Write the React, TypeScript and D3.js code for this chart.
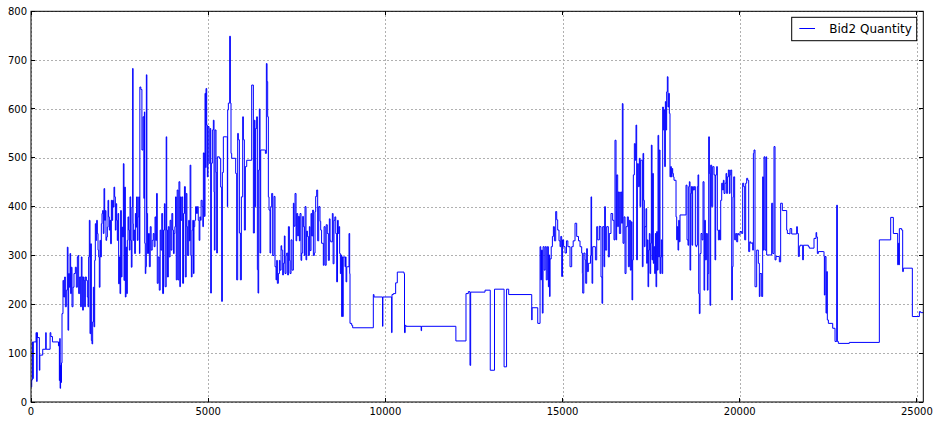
import React from "react";
import * as d3 from "d3";

// [sample index, Bid2 quantity] breakpoints (value holds until next index)
const openingSteps: [number, number][] = [
  [0, 31], [20, 45], [38, 123], [50, 48], [65, 123], [142, 142], [160, 42], [172, 142], [180, 132], [236, 65],
  [250, 96], [331, 108], [416, 142], [428, 108], [539, 142], [560, 134], [605, 123], [775, 115], [790, 123],
  [800, 44], [812, 130], [822, 28], [835, 75], [848, 40], [860, 80],
];

const morningSession: [number, number][] = [
  [875, 181], [903, 249], [922, 215], [950, 256], [969, 195], [997, 229], [1025, 317], [1044, 147], [1063, 263],
  [1082, 235], [1101, 304], [1119, 222], [1138, 276], [1157, 195], [1185, 235], [1213, 263], [1251, 276],
  [1279, 235], [1308, 297], [1326, 300], [1345, 222], [1373, 256], [1402, 195], [1420, 297], [1439, 256],
  [1458, 188], [1477, 256], [1496, 249], [1515, 195], [1533, 256], [1562, 249], [1590, 215], [1609, 195],
  [1627, 297], [1646, 372], [1665, 140], [1684, 324], [1703, 126], [1721, 119], [1740, 164], [1759, 235],
  [1778, 154], [1797, 290], [1815, 365], [1834, 331], [1853, 372], [1872, 345], [1891, 311], [1910, 297],
  [1928, 235], [1947, 331], [1966, 297], [1985, 365], [2004, 386], [2022, 392], [2041, 345], [2060, 437],
  [2079, 372], [2098, 392], [2116, 331], [2135, 338], [2154, 358], [2173, 413], [2192, 379], [2211, 352],
  [2229, 372], [2248, 324], [2267, 413], [2286, 372], [2305, 413], [2323, 399], [2342, 440], [2361, 420],
  [2380, 352], [2399, 406], [2418, 372], [2436, 331], [2455, 386], [2474, 242], [2493, 297], [2512, 222],
  [2530, 392], [2549, 256], [2568, 358], [2587, 338], [2606, 488], [2624, 249], [2643, 440], [2662, 215],
  [2681, 317], [2700, 222], [2718, 331], [2737, 379], [2756, 352], [2775, 311], [2794, 420], [2813, 331],
  [2831, 276], [2850, 399], [2869, 683], [2880, 365], [2888, 331], [2907, 352], [2926, 304], [2945, 386],
  [2963, 358], [2980, 420], [3000, 331], [3020, 379], [3040, 420], [3060, 304], [3072, 645], [3100, 640],
  [3130, 516], [3160, 584], [3185, 417], [3200, 594], [3210, 325], [3225, 263], [3240, 277], [3255, 670],
  [3270, 386], [3290, 304], [3315, 345], [3340, 277], [3365, 359], [3390, 311], [3420, 331], [3450, 345],
  [3475, 318], [3500, 379], [3520, 331], [3545, 427], [3563, 243], [3590, 297], [3620, 229], [3645, 352],
  [3665, 311], [3690, 386], [3715, 222], [3740, 352], [3765, 406], [3785, 236], [3815, 543], [3830, 352],
  [3850, 256], [3875, 359], [3900, 297], [3925, 372], [3950, 311], [3975, 386], [4000, 352], [4020, 304],
  [4040, 345], [4060, 359], [4080, 420], [4100, 250], [4125, 434], [4150, 250], [4175, 451], [4200, 236],
  [4215, 420], [4230, 372], [4255, 420], [4280, 243], [4305, 386], [4330, 441], [4355, 256], [4380, 427],
  [4400, 359], [4420, 300], [4450, 372], [4470, 330], [4490, 485], [4510, 300], [4525, 256], [4545, 352],
  [4565, 372], [4585, 263], [4600, 359], [4620, 372], [4645, 400], [4670, 386], [4695, 400], [4720, 372],
  [4745, 331], [4765, 379], [4785, 372], [4800, 413], [4830, 400], [4850, 359],
];

const middaySession: [number, number][] = [
  [4864, 510], [4892, 380], [4911, 632], [4930, 480], [4939, 642], [4958, 567], [4977, 461], [4995, 564],
  [5024, 489], [5052, 560], [5071, 223], [5089, 489], [5118, 557], [5146, 577], [5165, 430], [5174, 311],
  [5193, 557], [5221, 470], [5240, 305], [5259, 502], [5315, 499], [5353, 440], [5381, 206], [5400, 470],
  [5428, 543], [5522, 543], [5541, 400], [5550, 598], [5569, 612], [5607, 749], [5626, 612], [5644, 509],
  [5663, 499], [5776, 468], [5804, 250], [5833, 550], [5851, 537], [5880, 346], [5908, 250], [5936, 420],
  [5974, 584], [5993, 537], [6021, 352], [6049, 482], [6087, 495], [6228, 649], [6265, 649], [6275, 346],
  [6303, 577], [6320, 400], [6340, 560], [6368, 584], [6388, 271], [6407, 223], [6425, 475], [6444, 600],
  [6463, 305], [6482, 516], [6585, 516], [6614, 509], [6642, 693], [6661, 656], [6679, 584], [6698, 420],
  [6717, 393], [6745, 305], [6764, 400], [6792, 427], [6820, 300], [6858, 421], [6886, 277], [6915, 250],
  [6933, 290], [6952, 243], [6980, 263], [7009, 290], [7027, 270], [7056, 320], [7074, 311], [7103, 260],
  [7121, 284], [7150, 340], [7168, 263], [7197, 300], [7215, 305], [7244, 260], [7263, 359], [7291, 290],
  [7310, 263], [7338, 332], [7366, 270], [7404, 407], [7422, 360], [7451, 427], [7479, 330], [7498, 386],
  [7526, 340], [7545, 380], [7573, 330], [7592, 386], [7620, 290], [7639, 305], [7667, 380], [7686, 359],
  [7714, 300], [7733, 400], [7761, 291], [7780, 350], [7799, 339], [7827, 300], [7855, 359], [7874, 310],
  [7902, 386], [7921, 340], [7949, 393], [7968, 300], [7996, 305], [8015, 390], [8034, 421], [8062, 434],
  [8090, 330], [8119, 400], [8155, 370], [8175, 352], [8200, 325], [8249, 280], [8270, 359], [8300, 280],
  [8330, 363], [8360, 345], [8391, 290], [8419, 375], [8440, 331], [8457, 328], [8504, 386], [8525, 283],
  [8550, 372], [8575, 379], [8600, 345], [8626, 246], [8650, 372], [8670, 345], [8690, 359], [8710, 304],
  [8730, 263], [8750, 301], [8767, 175], [8780, 297], [8795, 175], [8810, 297], [8861, 277], [8875, 297],
  [8890, 246], [8910, 277], [8927, 277], [8974, 345], [8993, 263], [9002, 161], [9049, 157], [9077, 152],
];

const quietPeriod: [number, number][] = [
  [9660, 220], [9680, 215], [9920, 155], [9930, 215], [10177, 142], [10187, 220], [10225, 222], [10290, 244],
  [10337, 266], [10525, 263], [10540, 142], [10560, 157], [10580, 155], [11010, 146], [11022, 155],
  [11990, 125], [12275, 222], [12341, 226], [12388, 75], [12407, 225], [12812, 229], [12960, 65],
  [13080, 231], [13350, 72], [13420, 231], [13480, 220], [14130, 168], [14140, 193], [14300, 161],
];

const afternoonSession: [number, number][] = [
  [14365, 318], [14385, 250], [14405, 311], [14430, 182], [14450, 318], [14480, 270], [14510, 318],
  [14540, 250], [14570, 318], [14600, 236], [14618, 301], [14635, 216], [14647, 293], [14680, 318],
  [14713, 339], [14741, 359], [14770, 330], [14807, 390], [14835, 373], [14863, 352], [14900, 330],
  [14929, 318], [14950, 339], [14976, 257], [15000, 332], [15030, 318], [15070, 305], [15110, 330],
  [15150, 318], [15211, 277], [15258, 318], [15300, 330], [15352, 366], [15399, 339], [15450, 330],
  [15493, 318], [15540, 305], [15559, 263], [15569, 223], [15600, 305], [15634, 291], [15653, 243],
  [15681, 314], [15700, 267], [15728, 284], [15757, 284], [15790, 300], [15804, 420], [15820, 300],
  [15832, 243], [15851, 318], [15917, 318], [15926, 291], [15964, 359], [15992, 332], [16039, 360],
  [16057, 359], [16085, 256], [16113, 202], [16132, 359], [16170, 277], [16189, 400], [16208, 311],
  [16245, 359], [16292, 297], [16320, 345], [16367, 386], [16414, 372], [16452, 332], [16480, 536],
  [16509, 332], [16527, 465], [16556, 359], [16574, 430], [16603, 345], [16640, 430], [16668, 366],
  [16687, 611], [16706, 325], [16734, 379], [16763, 263], [16791, 359], [16828, 379], [16857, 277],
  [16885, 372], [16913, 270], [16941, 369], [16960, 209], [16979, 291], [16998, 465], [17026, 529],
  [17054, 495], [17073, 567], [17092, 291], [17111, 488], [17139, 441], [17167, 499], [17186, 400],
  [17205, 495], [17233, 495], [17252, 277], [17271, 509], [17289, 413], [17308, 318], [17327, 359],
  [17355, 396], [17374, 284], [17393, 332], [17412, 236], [17430, 311], [17449, 345], [17468, 263],
  [17487, 325], [17506, 526], [17525, 291], [17543, 468], [17562, 284], [17581, 318], [17600, 263],
  [17619, 345], [17637, 236], [17656, 349], [17675, 270], [17694, 546], [17713, 297], [17731, 516],
  [17750, 263], [17769, 297], [17788, 332], [17807, 263], [17826, 604], [17844, 557], [17863, 598],
  [17882, 482], [17901, 615], [17920, 557], [17938, 635], [17957, 666], [17976, 604], [17995, 632],
  [18014, 591], [18032, 461], [18051, 482], [18070, 461], [18089, 478], [18108, 468], [18127, 461],
  [18145, 454], [18174, 454], [18202, 379], [18221, 332], [18239, 359], [18258, 311], [18277, 372],
  [18296, 328], [18315, 383], [18484, 444], [18512, 332], [18540, 321], [18559, 441], [18578, 451],
  [18597, 270], [18616, 427], [18635, 441], [18653, 321], [18672, 441], [18691, 434], [18719, 441],
  [18747, 321], [18766, 318], [18785, 321], [18804, 441], [18823, 465], [18842, 222], [18860, 181],
  [18879, 304], [18907, 345], [18936, 332], [18964, 451], [18992, 229], [19011, 372], [19030, 291],
  [19058, 345], [19086, 229], [19105, 263], [19124, 543], [19143, 468], [19161, 198], [19180, 485],
  [19208, 400], [19237, 482], [19255, 482], [19274, 465], [19302, 291], [19321, 465], [19349, 482],
  [19368, 352], [19397, 332], [19425, 352], [19444, 332], [19463, 413], [19491, 448], [19519, 434],
  [19538, 454], [19557, 427], [19585, 448], [19613, 468], [19632, 427], [19651, 461], [19679, 475],
  [19707, 427], [19726, 465], [19745, 475], [19773, 209], [19792, 277], [19811, 420], [19829, 461],
  [19857, 332], [19886, 345], [19914, 328], [19942, 345], [19970, 342], [20008, 349], [20055, 345],
  [20083, 448], [20112, 441], [20140, 332], [20168, 448], [20196, 458], [20224, 454], [20253, 308],
  [20281, 328], [20309, 325], [20337, 326], [20365, 311],
];

const closingSteps: [number, number][] = [
  [20385, 509], [20403, 516], [20431, 236], [20478, 311], [20525, 284], [20553, 216], [20572, 263],
  [20619, 216], [20647, 461], [20666, 311], [20685, 502], [20713, 311], [20742, 502], [20760, 301],
  [20901, 407], [20930, 304], [20967, 523], [20996, 291], [21024, 298], [21118, 287], [21155, 407],
  [21202, 392], [21325, 352], [21344, 345], [21400, 344], [21419, 355], [21466, 344], [21607, 359],
  [21626, 345], [21654, 298], [21682, 318], [21701, 321], [21776, 291], [21795, 321], [21936, 318],
  [21964, 315], [22096, 335], [22153, 347], [22171, 338], [22190, 304], [22218, 308], [22360, 308],
  [22378, 298], [22388, 219], [22407, 298], [22435, 182], [22454, 267], [22472, 168], [22501, 161],
  [22623, 151], [22689, 124], [22736, 403], [22755, 124], [22783, 120], [23093, 122], [23940, 332],
  [24260, 378], [24335, 345], [24457, 281], [24476, 325], [24495, 281], [24504, 355], [24570, 352],
  [24598, 267], [24617, 274], [24871, 175], [25069, 185], [25106, 183], [25181, 183],
];

const bid2Steps = [
  ...openingSteps, ...morningSession, ...middaySession, ...quietPeriod, ...afternoonSession, ...closingSteps,
];

const xTicks = [0, 5000, 10000, 15000, 20000, 25000];
const yTicks = [0, 100, 200, 300, 400, 500, 600, 700, 800];
const seriesLabel = "Bid2 Quantity";

const W = 939;
const H = 423;
const M = { left: 31, right: 923.3, top: 11.3, bottom: 402 };
const FONT = "DejaVu Sans, sans-serif";

export default function App() {
  const x = d3.scaleLinear().domain([0, 25180]).range([M.left, M.right]);
  const y = d3.scaleLinear().domain([0, 800]).range([M.bottom, M.top]);
  const line = d3
    .line<[number, number]>()
    .x((d) => x(d[0]))
    .y((d) => y(d[1]))
    .curve(d3.curveStepAfter);

  const legendRight = M.right - 6.6;
  const legendLeft = 791.7;
  const legendTop = M.top + 6;
  const legendBottom = 40.7;

  return (
    <svg
      width={W}
      height={H}
      style={{ position: "absolute", left: 0, top: 0, background: "#fff" }}
      fontFamily={FONT}
    >
      <rect x={0} y={0} width={W} height={H} fill="#fff" />
      {/* grid */}
      <g stroke="#b0b0b0" strokeWidth={1} strokeDasharray="2,2" shapeRendering="crispEdges">
        {xTicks.map((t) => (
          <line key={"gx" + t} x1={Math.round(x(t)) + 0.5} x2={Math.round(x(t)) + 0.5} y1={M.top} y2={M.bottom} />
        ))}
        {yTicks.map((t) => (
          <line key={"gy" + t} x1={M.left} x2={M.right} y1={Math.round(y(t)) + 0.5} y2={Math.round(y(t)) + 0.5} />
        ))}
      </g>
      {/* series */}
      <path d={line(bid2Steps) || ""} fill="none" stroke="#0000ff" strokeWidth={1} strokeLinejoin="miter" />
      {/* ticks */}
      <g stroke="#000" strokeWidth={1} shapeRendering="crispEdges">
        {xTicks.map((t) => (
          <g key={"tx" + t}>
            <line x1={x(t)} x2={x(t)} y1={M.bottom} y2={M.bottom - 4} />
            <line x1={x(t)} x2={x(t)} y1={M.top} y2={M.top + 4} />
          </g>
        ))}
        {yTicks.map((t) => (
          <g key={"ty" + t}>
            <line x1={M.left} x2={M.left + 4} y1={y(t)} y2={y(t)} />
            <line x1={M.right} x2={M.right - 4} y1={y(t)} y2={y(t)} />
          </g>
        ))}
      </g>
      {/* spines */}
      <rect
        x={M.left}
        y={M.top}
        width={M.right - M.left}
        height={M.bottom - M.top}
        fill="none"
        stroke="#000"
        strokeWidth={1}
      />
      {/* tick labels */}
      <g fontSize={10} fill="#000">
        {xTicks.map((t) => (
          <text key={"lx" + t} x={x(t)} y={M.bottom + 13} textAnchor="middle">
            {t}
          </text>
        ))}
        {yTicks.map((t) => (
          <text key={"ly" + t} x={M.left - 4} y={y(t) + 3.6} textAnchor="end">
            {t}
          </text>
        ))}
      </g>
      {/* legend */}
      <g>
        <rect
          x={legendLeft}
          y={legendTop}
          width={legendRight - legendLeft}
          height={legendBottom - legendTop}
          fill="#fff"
          stroke="#000"
          strokeWidth={1}
        />
        <line x1={799.3} x2={815} y1={28.5} y2={28.5} stroke="#0000ff" strokeWidth={1} />
        <text x={829.3} y={33} fontSize={12} fill="#000">
          {seriesLabel}
        </text>
      </g>
    </svg>
  );
}
